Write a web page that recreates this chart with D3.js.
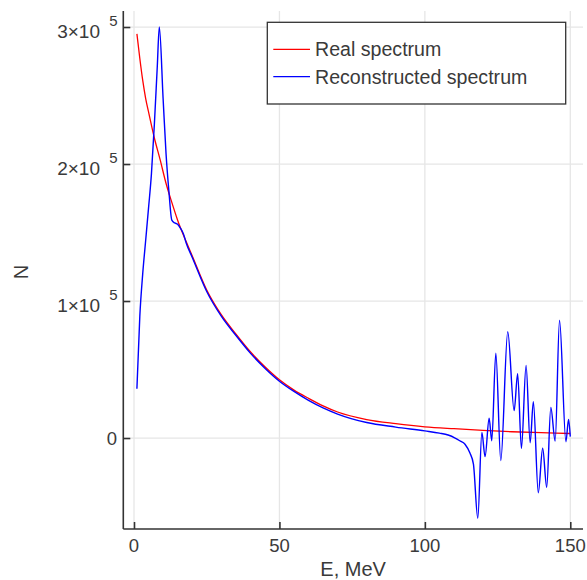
<!DOCTYPE html>
<html>
<head>
<meta charset="utf-8">
<script src="https://cdn.jsdelivr.net/npm/d3@7"></script>
<style>
  html, body { margin: 0; padding: 0; background: #fff; }
  svg { display: block; }
  text { font-family: "Liberation Sans", Arial, Helvetica, sans-serif; fill: #3a3a3a; }
</style>
</head>
<body>
<svg id="chart" width="587" height="580"></svg>
<script>
// ---- data (N in units of counts) ----
const realE = [1, 2, 3, 4, 5, 7, 9, 11, 13, 15, 18, 20, 25, 30, 35, 40, 45, 50, 55, 60, 65, 70, 80, 90, 100, 110, 120, 130, 140, 150];
const realN = [295000, 277000, 261000, 248000, 238000, 219000, 203000, 186000, 172000, 159000, 143000, 133000, 108000, 90000, 76000, 63000, 52000, 42500, 35000, 29000, 23500, 19000, 13500, 10500, 8200, 6800, 5600, 4600, 3900, 3300];

const recoE = [1, 2, 3, 4, 5, 6, 7, 8, 8.7, 10, 11, 12, 13, 14, 15, 16, 17, 18, 20, 25, 30, 35, 40, 45, 50, 55, 60, 65, 70, 80, 90, 100, 105, 108, 110.4, 112, 113.8, 115.5, 116.7, 118.2, 119.6, 120.7, 122.1, 123.0, 124.4, 126.1, 128.5, 130.7, 131.9, 133.2, 134.8, 136.2, 137.3, 139.0, 140.5, 141.9, 143.3, 144.8, 146.3, 148.5, 149.4, 150];
const recoN = [36000, 89000, 120000, 144000, 168000, 193000, 229000, 271000, 300000, 248000, 208000, 180000, 159000, 157000, 156000, 153000, 149000, 142000, 132000, 107000, 89000, 75000, 62000, 51000, 41500, 34000, 27500, 22000, 17500, 11300, 8000, 5200, 3600, 2200, 0, -2000, -4500, -11000, -19000, -58600, 4000, -13600, 14400, -2000, 62000, -16500, 77600, 20000, 47000, -7500, 53000, -3400, 26500, -40000, -7500, -36000, 22400, -2200, 86000, -2700, 13600, 1000];

const xTicks = [0, 50, 100, 150];
const yTicks = [0, 100000, 200000, 300000];
const yTickMantissa = ["0", "1×10", "2×10", "3×10"];
const yTickExp = ["", "5", "5", "5"];
const seriesNames = ["Real spectrum", "Reconstructed spectrum"];
const seriesColors = ["#ff0000", "#0000ff"];

// ---- layout ----
const svg = d3.select("#chart");
const pL = 123.3, pR = 583, pT = 11, pB = 529;

const x = d3.scaleLinear().domain([-3.68, 154.37]).range([pL, pR]);
const y = d3.scaleLinear().domain([-66400, 311700]).range([pB, pT]);

// grid
const grid = svg.append("g");
grid.selectAll("line.gx").data(xTicks).enter().append("line")
  .attr("x1", d => x(d)).attr("x2", d => x(d))
  .attr("y1", pT).attr("y2", pB)
  .attr("stroke", "#e6e6e6").attr("stroke-width", 1.3);
grid.selectAll("line.gy").data(yTicks).enter().append("line")
  .attr("x1", pL).attr("x2", pR)
  .attr("y1", d => y(d)).attr("y2", d => y(d))
  .attr("stroke", "#e6e6e6").attr("stroke-width", 1.3);

// lines
const line = d3.line().curve(d3.curveMonotoneX)
  .x(d => x(d[0])).y(d => y(d[1]));
const realData = realE.map((e, i) => [e, realN[i]]);
const recoData = recoE.map((e, i) => [e, recoN[i]]);

svg.append("path").datum(realData).attr("d", line)
  .attr("fill", "none").attr("stroke", seriesColors[0]).attr("stroke-width", 1.3);
svg.append("path").datum(recoData).attr("d", line)
  .attr("fill", "none").attr("stroke", seriesColors[1]).attr("stroke-width", 1.4);

// axes (ticks pointing inward)
const xAxis = d3.axisBottom(x).tickValues(xTicks).tickSize(-7).tickFormat("");
const gx = svg.append("g").attr("transform", `translate(0,${pB})`).call(xAxis);
gx.select(".domain").attr("d", `M${pL},0H${pR}`);
gx.selectAll("line, path").attr("stroke", "#333").attr("stroke-width", 1.6);

const yAxis = d3.axisLeft(y).tickValues(yTicks).tickSize(-7).tickFormat("");
const gy = svg.append("g").attr("transform", `translate(${pL},0)`).call(yAxis);
gy.select(".domain").attr("d", `M0,${pB}V${pT}`);
gy.selectAll("line, path").attr("stroke", "#333").attr("stroke-width", 1.6);

// x tick labels
svg.selectAll("text.xt").data(xTicks).enter().append("text")
  .attr("x", d => x(d)).attr("y", pB + 23)
  .attr("text-anchor", "middle").attr("font-size", 18.5)
  .text(d => d);

// y tick labels
yTicks.forEach((v, i) => {
  if (yTickExp[i] === "") {
    svg.append("text").attr("x", 117).attr("y", y(v) + 7)
      .attr("text-anchor", "end").attr("font-size", 18.5).text(yTickMantissa[i]);
  } else {
    svg.append("text").attr("x", 100).attr("y", y(v) + 10.5)
      .attr("text-anchor", "end").attr("font-size", 19).text(yTickMantissa[i]);
    svg.append("text").attr("x", 117.5).attr("y", y(v) - 1)
      .attr("text-anchor", "end").attr("font-size", 15).text(yTickExp[i]);
  }
});

// axis titles
svg.append("text").attr("x", (pL + pR) / 2).attr("y", 576)
  .attr("text-anchor", "middle").attr("font-size", 20).text("E, MeV");
svg.append("text").attr("transform", `translate(28,${(pT + pB) / 2 + 2}) rotate(-90)`)
  .attr("text-anchor", "middle").attr("font-size", 20).text("N");

// legend
const lg = svg.append("g");
lg.append("rect").attr("x", 267.3).attr("y", 22.3).attr("width", 298.4).attr("height", 81.7)
  .attr("fill", "#fff").attr("stroke", "#333").attr("stroke-width", 1.3);
seriesNames.forEach((name, i) => {
  const yy = 49.3 + i * 27.4;
  lg.append("line").attr("x1", 273.3).attr("x2", 310).attr("y1", yy).attr("y2", yy)
    .attr("stroke", seriesColors[i]).attr("stroke-width", 1.3);
  lg.append("text").attr("x", 315).attr("y", yy + 7).attr("font-size", 19.6).text(name);
});
</script>
</body>
</html>
